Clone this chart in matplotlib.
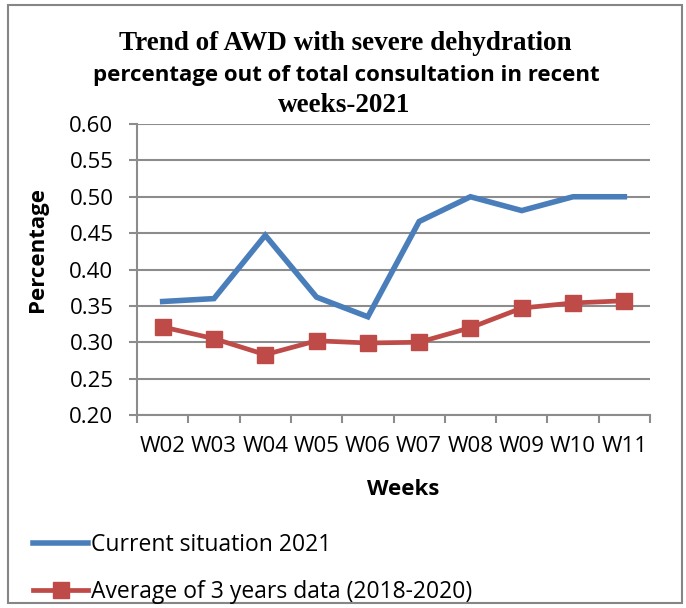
import matplotlib
matplotlib.use("Agg")
import matplotlib.pyplot as plt
from matplotlib.patches import Rectangle
import numpy as np

weeks = ["W02", "W03", "W04", "W05", "W06", "W07", "W08", "W09", "W10", "W11"]
current_2021 = [0.356, 0.360, 0.447, 0.362, 0.335, 0.466, 0.500, 0.481, 0.500, 0.500]
avg_2018_2020 = [0.321, 0.305, 0.283, 0.302, 0.299, 0.300, 0.320, 0.347, 0.354, 0.357]
yticks = [0.20, 0.25, 0.30, 0.35, 0.40, 0.45, 0.50, 0.55, 0.60]

W, H = 686, 608
fig = plt.figure(figsize=(W / 100, H / 100), dpi=100)
fig.patch.set_facecolor("white")

SANS = ["Open Sans", "DejaVu Sans"]
SERIF = ["Liberation Serif", "DejaVu Serif"]
GRID = "#8c8c8c"
BLUE = "#4a7ebb"
RED = "#be4b48"

# outer border
fig.patches.append(Rectangle((8 / W, 1 - 603 / H), (682 - 8) / W, (603 - 5) / H,
                             transform=fig.transFigure, fill=False,
                             edgecolor="#868686", linewidth=1.5))

left, right, top, bottom = 137, 650, 124, 415
ax = fig.add_axes([left / W, 1 - bottom / H, (right - left) / W, (bottom - top) / H])

x = np.arange(len(weeks))
ax.plot(x, current_2021, color=BLUE, linewidth=4.0, solid_joinstyle="miter",
        label="Current situation 2021", zorder=3)
ax.plot(x, avg_2018_2020, color=RED, linewidth=3.4, marker="s", markersize=12,
        markeredgecolor=RED, label="Average of 3 years data (2018-2020)", zorder=3)

ax.set_xlim(-0.5, len(weeks) - 0.5)
ax.set_ylim(0.20, 0.60)
ax.set_yticks(yticks)
ax.set_yticklabels([f"{v:.2f}" for v in yticks], fontfamily=SANS, fontsize=16)
ax.set_xticks(x)
ax.set_xticklabels(weeks, fontfamily=SANS, fontsize=16)
ax.tick_params(axis="x", which="major", length=0, pad=15)
ax.set_xticks(np.arange(-0.5, len(weeks)), minor=True)
ax.tick_params(axis="x", which="minor", length=6, width=1.5, color=GRID, direction="out")
ax.tick_params(axis="y", which="major", length=6, width=1.5, color=GRID, direction="out", pad=11)

ax.yaxis.grid(True, color=GRID, linewidth=1.5)
ax.set_axisbelow(True)
for s in ["top", "right"]:
    ax.spines[s].set_visible(False)
for s in ["left", "bottom"]:
    ax.spines[s].set_color(GRID)
    ax.spines[s].set_linewidth(1.5)

ax.set_ylabel("Percentage", fontfamily=SANS, fontsize=16, fontweight="bold", va="center")
ax.yaxis.set_label_coords((38 - left) / (right - left), (bottom - 249) / (bottom - top))
ax.set_xlabel("Weeks", fontfamily=SANS, fontsize=16, fontweight="bold", va="center")
ax.xaxis.set_label_coords((403 - left) / (right - left), (bottom - 490) / (bottom - top))

# title (three lines, mixed fonts as in reference)
fig.text(345 / W, 1 - 44 / H, "Trend of AWD with severe dehydration", ha="center", va="center",
         fontfamily=SERIF, fontsize=19.5, fontweight="bold")
fig.text(346 / W, 1 - 75 / H, "percentage out of total consultation in recent", ha="center", va="center",
         fontfamily=SANS, fontsize=16, fontweight="bold")
fig.text(344 / W, 1 - 105 / H, "weeks-2021", ha="center", va="center",
         fontfamily=SERIF, fontsize=19.5, fontweight="bold")

leg = fig.legend(loc="upper left", bbox_to_anchor=(33 / W, 1 - 533 / H), frameon=False,
                 prop={"family": SANS, "size": 16.5}, handlelength=2.4, handletextpad=0.15,
                 labelspacing=1.02, borderpad=0, borderaxespad=0)

fig.savefig("out.png", dpi=100)
